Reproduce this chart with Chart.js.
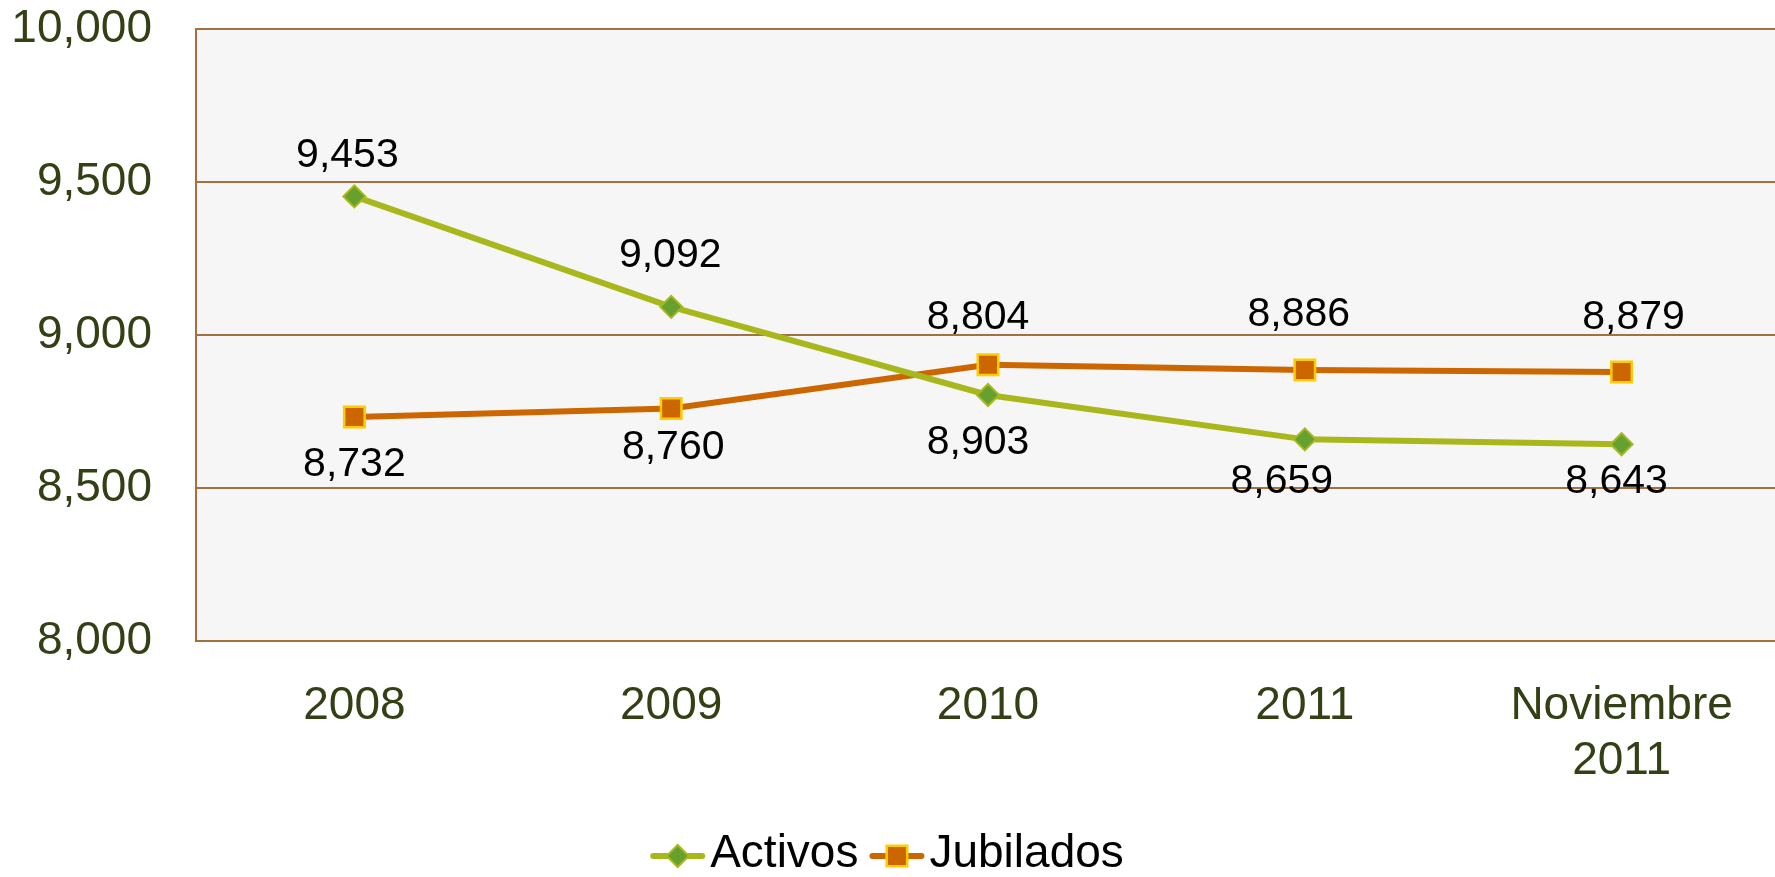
<!DOCTYPE html>
<html>
<head>
<meta charset="utf-8">
<script src="https://cdn.jsdelivr.net/npm/chart.js@4/dist/chart.umd.min.js"></script>
<style>
    html, body { margin: 0; padding: 0; background: #ffffff; overflow: hidden; }
    /* the plot runs a few px past the right edge of the window, as in the original */
    #chart { display: block; }
</style>
</head>
<body>
<canvas id="chart" width="1780" height="877"></canvas>
<script>
// --- datos ---
const categories = ['2008', '2009', '2010', '2011', ['Noviembre', '2011']];
const activos = [9453, 9092, 8804, 8659, 8643];
const jubilados = [8732, 8760, 8903, 8886, 8879];
const yMin = 8000;
const yMax = 10000;
const yStep = 500;

const FONT = '"Liberation Sans", Arial, sans-serif';
const tickColor = '#333F14';
const gridColor = '#A3713F';

const fmt = v => Number(v).toLocaleString('en-US');

// fondo gris del área de trazado
const plotBackground = {
    id: 'plotBackground',
    beforeDraw(chart) {
        const { ctx, chartArea: a } = chart;
        ctx.save();
        ctx.fillStyle = '#F6F6F6';
        ctx.fillRect(a.left, a.top, a.right - a.left, a.bottom - a.top);
        ctx.restore();
    }
};

// etiquetas de valor junto a cada punto
const valueLabels = {
    id: 'valueLabels',
    afterDatasetsDraw(chart) {
        const ctx = chart.ctx;
        ctx.save();
        ctx.font = `41px ${FONT}`;
        ctx.fillStyle = '#000000';
        ctx.textAlign = 'center';
        ctx.textBaseline = 'middle';
        chart.data.datasets.forEach((ds, i) => {
            const meta = chart.getDatasetMeta(i);
            meta.data.forEach((pt, j) => {
                const off = ds.labelOffsets[j];
                ctx.fillText(fmt(ds.data[j]), pt.x + off[0], pt.y + off[1]);
            });
        });
        ctx.restore();
    }
};

// leyenda con línea + marcador
const lineLegend = {
    id: 'lineLegend',
    afterDraw(chart, args, opts) {
        const ctx = chart.ctx;
        ctx.save();
        ctx.font = `46px ${FONT}`;
        const sample = 55, gap = 5, itemGap = 11;
        const items = chart.data.datasets.map(ds => ({ ds, w: sample + gap + ctx.measureText(ds.label).width }));
        const total = items.reduce((s, it) => s + it.w, 0) + itemGap * (items.length - 1);
        let x = chart.width / 2 - total / 2 + opts.shiftX;
        const y = opts.y;
        items.forEach(({ ds, w }) => {
            ctx.strokeStyle = ds.borderColor;
            ctx.lineWidth = ds.borderWidth;
            ctx.lineCap = 'round';
            ctx.beginPath();
            ctx.moveTo(x + 3, y);
            ctx.lineTo(x + sample - 3, y);
            ctx.stroke();

            ctx.fillStyle = ds.pointBackgroundColor;
            ctx.strokeStyle = ds.pointBorderColor;
            ctx.lineWidth = ds.pointBorderWidth;
            Chart.helpers.drawPoint(ctx, {
                pointStyle: ds.pointStyle,
                radius: ds.pointRadius,
                borderWidth: ds.pointBorderWidth,
                rotation: 0
            }, x + sample / 2, y);

            ctx.fillStyle = '#000000';
            ctx.textAlign = 'left';
            ctx.textBaseline = 'middle';
            ctx.fillText(ds.label, x + sample + gap, y - 2);
            x += w + itemGap;
        });
        ctx.restore();
    }
};

new Chart(document.getElementById('chart'), {
    type: 'line',
    data: {
        labels: categories,
        datasets: [{
            label: 'Activos',
            data: activos,
            borderColor: '#A8B81C',
            borderWidth: 6,
            pointStyle: 'rectRot',
            pointRadius: 11,
            pointBackgroundColor: '#66A12F',
            pointBorderColor: '#A8B81C',
            pointBorderWidth: 2,
            tension: 0,
            labelOffsets: [[-7, -41], [-1, -51], [-10, -77], [-23, 42], [-5, 37]]
        }, {
            label: 'Jubilados',
            data: jubilados,
            borderColor: '#CC6600',
            borderWidth: 6,
            pointStyle: 'rect',
            pointRadius: 14.5,
            pointBackgroundColor: '#CC6600',
            pointBorderColor: '#FFCC00',
            pointBorderWidth: 2.5,
            tension: 0,
            labelOffsets: [[0, 48], [2, 39], [-10, 78], [-6, -55], [12, -54]]
        }]
    },
    options: {
        responsive: false,
        animation: false,
        devicePixelRatio: 1,
        layout: { autoPadding: false, padding: { top: 29, right: 0, bottom: 96, left: 0 } },
        plugins: {
            legend: { display: false },
            tooltip: { enabled: false },
            lineLegend: { y: 856, shiftX: -3 }
        },
        scales: {
            x: {
                offset: true,
                grid: { display: false },
                border: { display: true, color: gridColor, width: 2 },
                ticks: {
                    color: tickColor,
                    font: { family: FONT, size: 46, lineHeight: 1.2 },
                    padding: 30,
                    maxRotation: 0,
                    autoSkip: false
                },
                afterFit: scale => {
                    scale.height = 140;
                    scale.paddingLeft = 0;
                    scale.paddingRight = 0;
                }
            },
            y: {
                min: yMin,
                max: yMax,
                grid: { color: gridColor, lineWidth: 2, drawTicks: false },
                border: { display: true, color: gridColor, width: 2 },
                ticks: {
                    stepSize: yStep,
                    color: tickColor,
                    font: { family: FONT, size: 46 },
                    padding: 44,
                    callback: v => fmt(v)
                },
                afterFit: scale => {
                    scale.width = 196;
                    scale.paddingTop = 0;
                    scale.paddingBottom = 0;
                }
            }
        }
    },
    plugins: [plotBackground, valueLabels, lineLegend]
});
</script>
</body>
</html>
